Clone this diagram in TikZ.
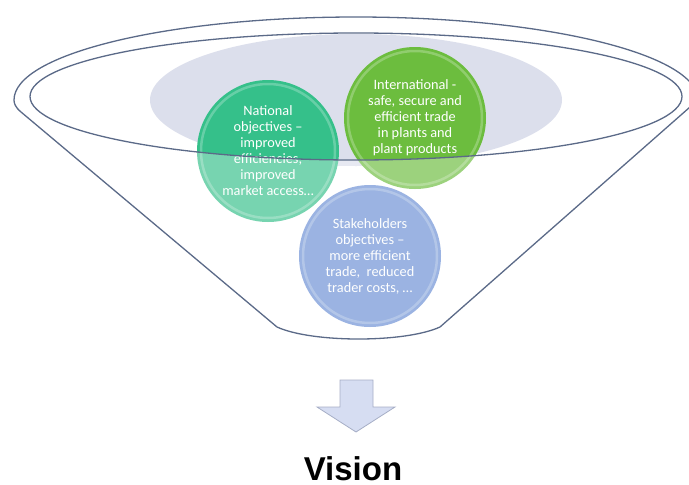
\documentclass[tikz,border=0pt]{standalone}
\usepackage{fontspec}
\setmainfont{Carlito}
\newfontfamily\visionfont{Liberation Sans}
\begin{document}
\begin{tikzpicture}[x=1pt,y=-1pt]
\definecolor{rimline}{HTML}{5B6A88}
\definecolor{grayell}{HTML}{DCDFEC}
\definecolor{natc}{HTML}{35C08A}
\definecolor{intc}{HTML}{6CBD3E}
\definecolor{stkc}{HTML}{6A8FD4}
\definecolor{arrowfill}{HTML}{D6DDF2}
\definecolor{arrowline}{HTML}{A6AEC6}
\tikzset{
  ball/.style={circle, minimum size=142pt, inner sep=0pt, text=white, align=center,
    font=\fontsize{14.3}{16}\selectfont},
  ballrim/.style={draw=white, draw opacity=0.25, line width=2.5pt},
  funnelline/.style={draw=rimline, line width=1.3pt},
  arrowbox/.style={fill=arrowfill, draw=arrowline, line width=0.8pt, line join=miter},
  visiontext/.style={font=\visionfont\bfseries\fontsize{33}{36}\selectfont, text=black, inner sep=0pt}
}
\useasboundingbox (0,0) rectangle (689,485);
\begin{scope}
\clip (0,0) rectangle (689,485);
% white funnel body
\fill[white] (14,100) arc[start angle=180,end angle=360,x radius=342,y radius=83]
  -- (440,327) .. controls (405,343) and (312,343) .. (277,327)
  -- (21,112) .. controls (15,107) and (14,103) .. (14,100) -- cycle;
% gray disc inside the opening
\fill[grayell] (356,100) ellipse[x radius=206, y radius=66];
% circles
\node[ball, fill=natc] (nat) at (268,151) {National\\objectives –\\improved\\efficiencies,\\improved\\market access…};
\node[ball, fill=intc] (int) at (415,118) {International -\\safe, secure and\\efficient trade\\in plants and\\plant products};
\node[ball, fill=stkc] (stk) at (370,256) {Stakeholders\\objectives –\\more efficient\\trade,\ \ reduced\\trader costs, …};
\draw[ballrim] (nat.center) circle[radius=67pt];
\draw[ballrim] (int.center) circle[radius=67pt];
\draw[ballrim] (stk.center) circle[radius=67pt];
% front surface of the funnel (semi-transparent)
\fill[white, opacity=0.33, even odd rule]
  (14,100) arc[start angle=180,end angle=360,x radius=342,y radius=83]
  -- (440,327) .. controls (405,343) and (312,343) .. (277,327)
  -- (21,112) .. controls (15,107) and (14,103) .. (14,100) -- cycle
  (356,96.5) ellipse[x radius=326, y radius=63.5];
% funnel outlines
\draw[funnelline, line join=round] (14,100) arc[start angle=180,end angle=360,x radius=342,y radius=83]
  -- (440,327) .. controls (405,343) and (312,343) .. (277,327)
  -- (21,112) .. controls (15,107) and (14,103) .. (14,100) -- cycle;
\draw[funnelline] (356,96.5) ellipse[x radius=326, y radius=63.5];
\end{scope}
% arrow
\draw[arrowbox] (340,380) -- (373,380) -- (373,407) -- (395,407) -- (356,432) -- (317,407) -- (340,407) -- cycle;
% label
\node[visiontext, anchor=base] (vision) at (353,480) {Vision};
\end{tikzpicture}
\end{document}
